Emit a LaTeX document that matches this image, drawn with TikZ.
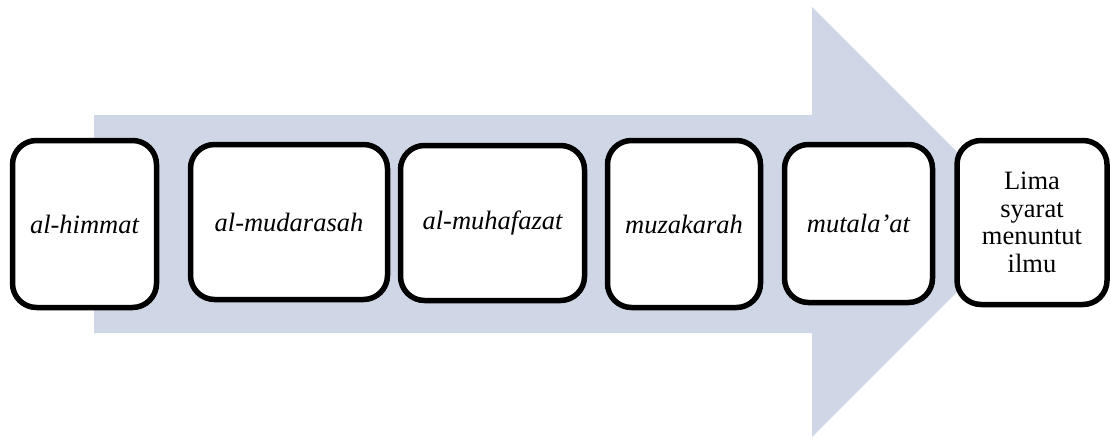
\documentclass[tikz,border=0pt]{standalone}
\usepackage{fontspec}
\setmainfont{Liberation Serif}
\begin{document}
\begin{tikzpicture}[x=1pt,y=-1pt,
  stepbox/.style={draw=black, fill=white, line width=5.5pt, rounded corners=24pt,
    align=center, inner sep=0pt,
    font=\fontsize{26.5}{27.5}\selectfont},
  arrowfill/.style={fill={rgb,255:red,207;green,215;blue,231}, draw=none}]
\useasboundingbox (0,0) rectangle (1110,439);
% big background arrow
\fill[arrowfill] (94,115) -- (812,115) -- (812,7) -- (1027,222) -- (812,437)
  -- (812,333) -- (94,333) -- cycle;
% the six steps
\node[stepbox, minimum width=144, minimum height=167] (s1) at (84.5,224) {\itshape al-himmat};
\node[stepbox, minimum width=197, minimum height=155] (s2) at (289,222) {\itshape al-mudarasah};
\node[stepbox, minimum width=184, minimum height=155] (s3) at (492.5,223) {\itshape al-muhafazat};
\node[stepbox, minimum width=153, minimum height=167] (s4) at (684,224) {\itshape muzakarah};
\node[stepbox, minimum width=148, minimum height=158] (s5) at (858.5,223.5) {\itshape mutala’at};
\node[stepbox, minimum width=150, minimum height=164] (s6) at (1032,222.5) {Lima\\syarat\\menuntut\\ilmu};
\end{tikzpicture}
\end{document}
